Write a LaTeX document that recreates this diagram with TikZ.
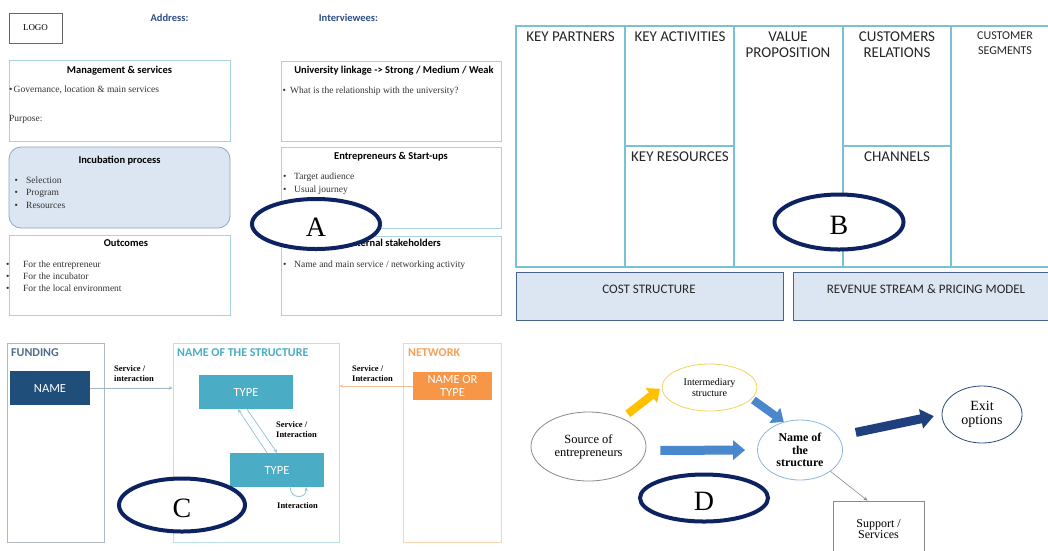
\documentclass[tikz,border=0pt]{standalone}
\usepackage{fontspec}
\setmainfont{Liberation Serif}
\setsansfont{Carlito}
\usepackage{tikz}
\usetikzlibrary{arrows.meta,shapes.geometric,positioning}

\definecolor{aline}{HTML}{A9D3E0}
\definecolor{incline}{HTML}{8CA6C6}
\definecolor{incfill}{HTML}{DCE6F2}
\definecolor{hdrblue}{HTML}{2F4E86}
\definecolor{navy}{HTML}{0D2361}
\definecolor{canvasline}{HTML}{78C2D8}
\definecolor{costline}{HTML}{46648E}
\definecolor{fundline}{HTML}{B0B9C2}
\definecolor{fundtitle}{HTML}{4F6D8C}
\definecolor{fundfill}{HTML}{1F4E7A}
\definecolor{fundarrow}{HTML}{9FB4C8}
\definecolor{structline}{HTML}{BDE0EA}
\definecolor{typefill}{HTML}{4BACC6}
\definecolor{typearrow}{HTML}{8FC3D6}
\definecolor{netline}{HTML}{FBD4B4}
\definecolor{nettitle}{HTML}{F6A05A}
\definecolor{netfill}{HTML}{F79646}
\definecolor{netarrow}{HTML}{F6C29A}
\definecolor{srcline}{HTML}{8A8A8A}
\definecolor{interline}{HTML}{F2D35B}
\definecolor{nameline}{HTML}{8DB4E2}
\definecolor{exitline}{HTML}{2E4A7A}
\definecolor{goldarrow}{HTML}{FFC000}
\definecolor{bluearrow}{HTML}{4A88CC}
\definecolor{navyarrow}{HTML}{1F3F7E}

\newcommand{\bltx}[1]{\makebox[#1][l]{\textbullet}}

\begin{document}
\begin{tikzpicture}[x=1pt,y=-1pt,>={Stealth[length=4pt,width=3.5pt]},
  panelbox/.style={draw=#1,line width=0.8pt,inner sep=0pt},
  hdr/.style={font=\sffamily\bfseries\fontsize{10.5}{12}\selectfont,text=hdrblue,inner sep=0pt,anchor=mid},
  ttl/.style={font=\sffamily\bfseries\fontsize{10.5}{12}\selectfont,inner sep=0pt,anchor=mid},
  itm/.style={font=\rmfamily\fontsize{9.5}{11}\selectfont,text=black!80,inner sep=0pt,anchor=mid west},
  cell/.style={draw=canvasline,line width=1.2pt,inner sep=0pt},
  bmc/.style={font=\sffamily\fontsize{15}{16}\selectfont,text=black!85,inner sep=0pt,align=center},
  costbox/.style={draw=costline,fill=incfill,line width=1pt,inner sep=0pt},
  ctitle/.style={font=\sffamily\bfseries\fontsize{12}{13}\selectfont,inner sep=0pt,anchor=mid west},
  cfill/.style={fill=#1,text=white,inner sep=0pt,font=\sffamily\fontsize{12.5}{13}\selectfont,align=center},
  clabel/.style={font=\rmfamily\bfseries\fontsize{8.5}{10}\selectfont,inner sep=0pt,anchor=west,align=left},
  dell/.style={ellipse,draw=#1,line width=0.8pt,inner sep=0pt,align=center},
  fat/.style={draw=#1,line width=8pt,-{Triangle[width=18pt,length=11pt]}},
  letter/.style={ellipse,draw=navy,fill=white,line width=4pt,inner sep=0pt,text height=24pt,text depth=0pt,font=\rmfamily\fontsize{28}{28}\selectfont}]

\fill[white] (0,0) rectangle (1048,550);
\useasboundingbox (0,0) rectangle (1048,550);

% A : interview grid
\node[draw=gray!80!black,line width=0.8pt,minimum width=53pt,minimum height=30pt,inner sep=0pt,font=\rmfamily\fontsize{9}{10}\selectfont] (logo) at (35.5,28) {LOGO};
\node[hdr] (addr) at (169.5,19) {Address:};
\node[hdr] (interv) at (348.5,19) {Interviewees:};

\node[panelbox=aline,minimum width=221pt,minimum height=81pt] (mgmt) at (119.5,100.5) {};
\node[ttl] (mgmttl) at (119.5,71) {Management \& services};
\node[itm] (gov) at (9,90) {\bltx{4.5pt}Governance, location \& main services};
\node[itm] (purp) at (9,119) {Purpose:};

\node[panelbox=incline,fill=incfill,rounded corners=12pt,minimum width=221pt,minimum height=81pt] (incub) at (119.5,187.5) {};
\node[ttl] (inctl) at (119.5,161) {Incubation process};
\node[itm] (sel) at (14.5,181) {\bltx{11.5pt}Selection};
\node[itm] (prog) at (14.5,193) {\bltx{11.5pt}Program};
\node[itm] (res) at (14.5,206) {\bltx{11.5pt}Resources};

\node[panelbox=aline,minimum width=221pt,minimum height=80pt] (outc) at (119.5,275) {};
\node[ttl] (outctl) at (126,244) {Outcomes};
\node[itm] (forent) at (6,265) {\bltx{17pt}For the entrepreneur};
\node[itm] (forinc) at (6,277) {\bltx{17pt}For the incubator};
\node[itm] (forloc) at (6,289) {\bltx{17pt}For the local environment};

\node[panelbox=aline,minimum width=220pt,minimum height=80pt] (unilink) at (391,101) {};
\node[ttl] (unitl) at (394,71) {University linkage -> Strong / Medium / Weak};
\node[itm] (relq) at (282.5,91) {\bltx{7.5pt}What is the relationship with the university?};

\node[panelbox=aline,minimum width=220pt,minimum height=81pt] (entre) at (391,187.5) {};
\node[ttl] (entretl) at (391,157) {Entrepreneurs \& Start-ups};
\node[itm] (target) at (283,177) {\bltx{11pt}Target audience};
\node[itm] (journey) at (283,190) {\bltx{11pt}Usual journey};

\node[panelbox=aline,minimum width=220pt,minimum height=79pt] (stake) at (391,275.5) {};
\node[ttl] (staketl) at (394,244) {External stakeholders};
\node[itm] (netact) at (283,265) {\bltx{11pt}Name and main service / networking activity};

\node[letter,minimum width=128pt,minimum height=50pt] (ellA) at (316,224) {A};

% B : business model canvas
\node[cell,minimum width=109pt,minimum height=241pt] (partners) at (570.5,146.5) {};
\node[cell,minimum width=109pt,minimum height=120pt] (activities) at (679.5,86) {};
\node[cell,minimum width=109pt,minimum height=121pt] (resources) at (679.5,206.5) {};
\node[cell,minimum width=109pt,minimum height=241pt] (value) at (788.5,146.5) {};
\node[cell,minimum width=108pt,minimum height=120pt] (relations) at (897,86) {};
\node[cell,minimum width=108pt,minimum height=121pt] (channels) at (897,206.5) {};
\node[cell,minimum width=100pt,minimum height=241pt] (segments) at (1001,146.5) {};

\node[bmc] (kp) at (570.5,37) {KEY PARTNERS};
\node[bmc] (ka) at (680,37) {KEY ACTIVITIES};
\node[bmc] (vp) at (788,45) {VALUE\\PROPOSITION};
\node[bmc] (cr) at (897,45) {CUSTOMERS\\RELATIONS};
\node[bmc,font=\sffamily\fontsize{12}{15}\selectfont] (cs) at (1005,43.5) {CUSTOMER\\SEGMENTS};
\node[bmc] (kr) at (680,157) {KEY RESOURCES};
\node[bmc] (ch) at (897,157) {CHANNELS};

\node[costbox,minimum width=267pt,minimum height=48pt] (cost) at (649.5,296) {};
\node[costbox,minimum width=259pt,minimum height=48pt] (revenue) at (922.5,296) {};
\node[bmc,font=\sffamily\fontsize{13}{14}\selectfont] (costtxt) at (649,289) {COST STRUCTURE};
\node[bmc,font=\sffamily\fontsize{13}{14}\selectfont] (revtxt) at (926,289) {REVENUE STREAM \& PRICING MODEL};

\node[letter,minimum width=129pt,minimum height=55pt] (ellB) at (839,222) {B};

% C : actors and interactions
\node[panelbox=fundline,minimum width=97pt,minimum height=199pt] (funding) at (55.5,442.5) {};
\node[ctitle,text=fundtitle] (fundtl) at (11,354) {FUNDING};
\node[cfill=fundfill,minimum width=80pt,minimum height=34pt] (fname) at (50,388) {NAME};

\node[panelbox=structline,minimum width=166pt,minimum height=199pt] (struct) at (256,442.5) {};
\node[ctitle,text=typefill] (structtl) at (177,354) {NAME OF THE STRUCTURE};
\node[cfill=typefill,minimum width=94pt,minimum height=34pt] (typeA) at (246,392) {TYPE};
\node[cfill=typefill,minimum width=94pt,minimum height=34pt] (typeB) at (277,470) {TYPE};

\node[panelbox=netline,minimum width=98pt,minimum height=199pt] (network) at (452,442.5) {};
\node[ctitle,text=nettitle] (nettl) at (408,354) {NETWORK};
\node[cfill=netfill,minimum width=79pt,minimum height=28pt] (netname) at (452.5,386) {NAME OR\\TYPE};

% arrows between the actors
\draw[->,draw=fundarrow,line width=0.7pt] (fname.east) -- (fname.east -| struct.west);
\draw[->,draw=netarrow,line width=0.7pt] (netname.west) -- (netname.west -| struct.east);
\draw[->,draw=typearrow,line width=0.7pt] ([xshift=-10pt]typeB.north) -- ([xshift=-8pt]typeA.south);
\draw[->,draw=typearrow,line width=0.7pt] ([xshift=1pt]typeA.south) -- (typeB.north);
\draw[->,draw=typearrow,line width=0.8pt] ([xshift=-34pt]typeB.south east) .. controls +(0,12) and +(0,12) .. ([xshift=-18pt]typeB.south east);

\node[clabel] (lblfund) at (114,374) {Service /\\interaction};
\node[clabel] (lblnet) at (352,374) {Service /\\Interaction};
\node[clabel] (lbltype) at (276,430) {Service /\\Interaction};
\node[clabel] (lblloop) at (277,506) {Interaction};

\node[letter,minimum width=126pt,minimum height=53pt] (ellC) at (182,505) {C};

% D : entrepreneur flow
\node[dell=srcline,minimum width=115pt,minimum height=69pt,font=\rmfamily\fontsize{12.5}{13}\selectfont] (source) at (588.5,446.5) {Source of\\entrepreneurs};
\node[dell=interline,minimum width=95pt,minimum height=47pt,font=\rmfamily\fontsize{10}{10.5}\selectfont] (inter) at (709.5,387.5) {Intermediary\\structure};
\node[dell=nameline,minimum width=85pt,minimum height=60pt,font=\rmfamily\bfseries\fontsize{12}{12.5}\selectfont] (named) at (800,450) {Name of\\the\\structure};
\node[dell=exitline,minimum width=80pt,minimum height=57pt,font=\rmfamily\fontsize{14}{14}\selectfont] (exit) at (982,414.5) {Exit\\options};
\node[draw=srcline,line width=0.8pt,minimum width=91pt,minimum height=56pt,inner sep=0pt,align=center,font=\rmfamily\fontsize{12}{11.5}\selectfont] (support) at (878.5,529) {Support /\\Services};

% fat arrows
\draw[fat=goldarrow,shorten <=7pt,shorten >=2pt] (source.40) -- (inter.180);
\draw[fat=bluearrow,shorten <=2pt] (inter.-15) -- (named.120);
\draw[fat=bluearrow,line width=9pt,-{Triangle[width=19pt,length=12pt]},shorten <=14pt,shorten >=12pt] ([yshift=-4pt]source.east) -- (named.west);
\draw[fat=navyarrow,line width=9pt,-{Triangle[width=19pt,length=13pt]},shorten <=18pt,shorten >=8pt] (named.20) -- (exit.180);
\draw[->,draw=srcline,line width=0.6pt] (named.-35) -- ([xshift=-11pt]support.north);

\node[letter,minimum width=128pt,minimum height=47pt] (ellD) at (704,498) {D};
\end{tikzpicture}
\end{document}
